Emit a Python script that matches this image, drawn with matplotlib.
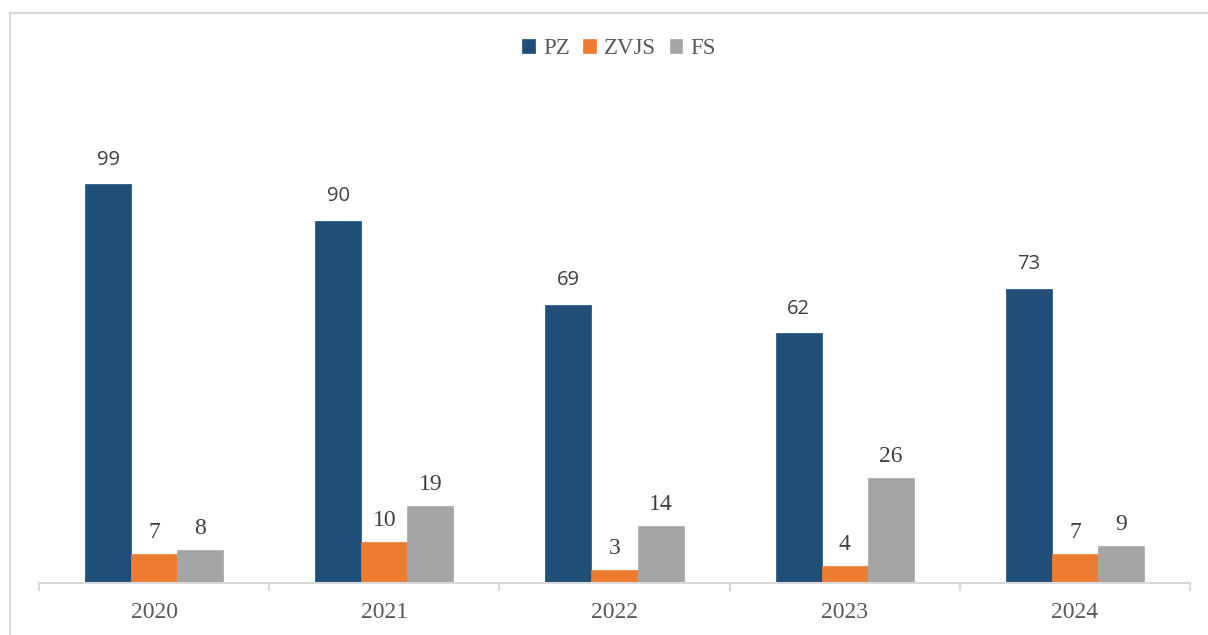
import matplotlib
matplotlib.use("Agg")
import matplotlib.pyplot as plt
from matplotlib.lines import Line2D
import numpy as np

years = ["2020", "2021", "2022", "2023", "2024"]
series_names = ["PZ", "ZVJS", "FS"]
pz = [99, 90, 69, 62, 73]
zvjs = [7, 10, 3, 4, 7]
fs = [8, 19, 14, 26, 9]
colors = ["#1F4E79", "#ED7D31", "#A5A5A5"]

W, H = 1208, 635
fig = plt.figure(figsize=(W / 100, H / 100), dpi=100)
ax = fig.add_axes([39 / W, (H - 582.5) / H, (1190 - 39) / W, (582.5 - 100) / H])

x = np.arange(len(years))
bw = 0.2
serif = ["Liberation Serif", "DejaVu Serif"]
sans = ["Open Sans", "DejaVu Sans"]
txtc = "#404040"

for i, (name, vals, col) in enumerate(zip(series_names, [pz, zvjs, fs], colors)):
    pos = x + (i - 1) * bw
    ax.bar(pos, vals, width=bw, color=col, label=name, edgecolor=col, linewidth=0.5, zorder=2)
    for p, v in zip(pos, vals):
        if i == 0:
            ax.annotate(str(v), (p, v), xytext=(0, 10.5), textcoords="offset points",
                        ha="center", va="bottom", fontsize=14.5, family=sans, color=txtc)
        else:
            ax.annotate(str(v), (p, v), xytext=(0, 8), textcoords="offset points",
                        ha="center", va="bottom", fontsize=17, family=serif, color=txtc)

ax.set_xlim(-0.5, len(years) - 0.5)
ax.set_ylim(0, 120)
ax.set_xticks(x)
ax.set_xticklabels(years, fontsize=17, family=serif, color="#595959")
ax.tick_params(axis="x", length=0, pad=14)
ax.set_xticks(np.arange(len(years) + 1) - 0.5, minor=True)
ax.tick_params(axis="x", which="minor", length=6, color="#D9D9D9", width=1.5)
ax.set_yticks([])
for s in ["top", "right", "left"]:
    ax.spines[s].set_visible(False)
ax.spines["bottom"].set_color("#D9D9D9")
ax.spines["bottom"].set_linewidth(1.5)

leg = fig.legend(loc="center", bbox_to_anchor=(619 / W, 1 - 49 / H), ncol=3, frameon=False,
                 prop={"family": serif, "size": 16.5}, handlelength=0.55, handleheight=0.55,
                 handletextpad=0.35, columnspacing=0.6)
for t in leg.get_texts():
    t.set_color("#595959")

# outer frame lines (left and top)
fig.add_artist(Line2D([10 / W, 10 / W], [0, 1 - 12.5 / H], transform=fig.transFigure,
                      color="#D9D9D9", linewidth=1.5))
fig.add_artist(Line2D([10 / W, 1], [1 - 12.5 / H, 1 - 12.5 / H], transform=fig.transFigure,
                      color="#D9D9D9", linewidth=1.5))

fig.savefig("out.png", dpi=100)
